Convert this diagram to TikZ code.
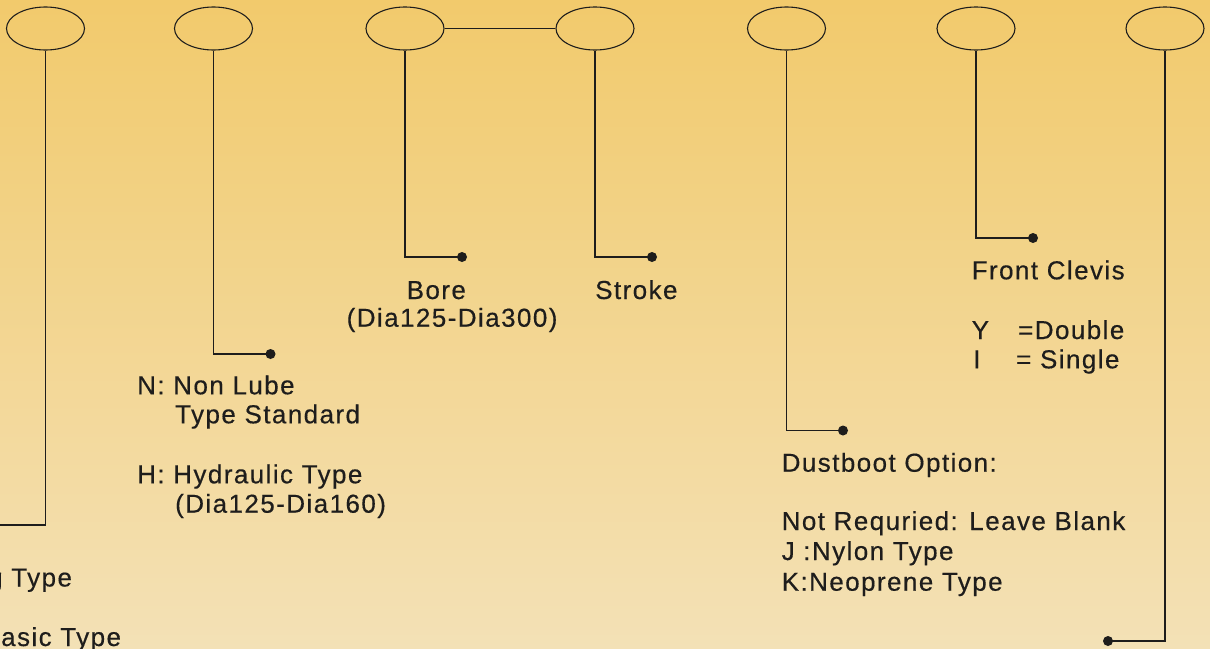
\documentclass[tikz,border=0pt]{standalone}
\usepackage{fontspec}
\setmainfont{Liberation Sans}[LetterSpace=5.5,FakeBold=0.4]
\definecolor{bgtop}{RGB}{242,202,108}
\definecolor{bgbot}{RGB}{243,225,182}
\definecolor{ink}{RGB}{30,29,28}
\tikzset{
  oval/.style={draw=ink, line width=1.1pt, ellipse, minimum width=78pt, minimum height=43pt, inner sep=0pt},
  lead/.style={draw=ink, line width=1.1pt},
  dot/.style={circle, fill=ink, inner sep=0pt, minimum size=10pt},
  lbl/.style={anchor=base west, inner sep=0pt, text=ink, font=\fontsize{26}{30}\selectfont},
}
\usetikzlibrary{shapes.geometric}
\begin{document}
\begin{tikzpicture}[x=1pt,y=-1pt]
\useasboundingbox (0,0) rectangle (1210,648);
\shade[top color=bgtop, bottom color=bgbot] (0,0) rectangle (1210,648);
\clip (0,0) rectangle (1210,648);
% ovals
\node[oval] (e1) at (45.5,28.5) {};
\node[oval] (e2) at (213.5,28.5) {};
\node[oval] (e3) at (405,28.5) {};
\node[oval] (e4) at (595,28.5) {};
\node[oval] (e5) at (786.5,28.5) {};
\node[oval] (e6) at (976,28.5) {};
\node[oval] (e7) at (1165,28.5) {};
% dots and corners
\coordinate (c1) at (45.5,525);
\coordinate (d1) at (-20,525);
\coordinate (c2) at (213.5,354);
\node[dot] (d2) at (270.5,354) {};
\coordinate (c3) at (405,257);
\node[dot] (d3) at (462,257) {};
\coordinate (c4) at (595,257);
\node[dot] (d4) at (652,257) {};
\coordinate (c5) at (786.5,430.5);
\node[dot] (d5) at (843,430.5) {};
\coordinate (c6) at (976,238);
\node[dot] (d6) at (1033,238) {};
\coordinate (c7) at (1165,641);
\node[dot] (d7) at (1108,641) {};
% connectors
\draw[lead] (e3.east) -- (e4.west);
\draw[lead] (e1.south) -- (c1) -- (d1);
\draw[lead] (e2.south) -- (c2) -- (d2.center);
\draw[lead] (e3.south) -- (c3) -- (d3.center);
\draw[lead] (e4.south) -- (c4) -- (d4.center);
\draw[lead] (e5.south) -- (c5) -- (d5.center);
\draw[lead] (e6.south) -- (c6) -- (d6.center);
\draw[lead] (e7.south) -- (c7) -- (d7.center);
% labels
\node[lbl] (t1a) at (-12,586.5) {g Type};
\node[lbl] (t1b) at (1,646) {asic Type};
\node[lbl] (t2a) at (137,394.3) {N: Non Lube};
\node[lbl] (t2b) at (175,423.3) {Type Standard};
\node[lbl] (t2c) at (137,483.3) {H: Hydraulic Type};
\node[lbl] (t2d) at (175,512.7) {(Dia125-Dia160)};
\node[lbl] (t3a) at (406.5,299) {Bore};
\node[lbl] (t3b) at (346.5,326.7) {(Dia125-Dia300)};
\node[lbl] (t4a) at (595,299) {Stroke};
\node[lbl] (t5a) at (781.5,471.7) {Dustboot Option:};
\node[lbl] (t5b) at (781.5,530) {Not Requried: Leave Blank};
\node[lbl] (t5c) at (781.5,560) {J :Nylon Type};
\node[lbl] (t5d) at (781.5,590.7) {K:Neoprene Type};
\node[lbl] (t6a) at (971.5,279.3) {Front Clevis};
\node[lbl] (t6b) at (971.5,339) {Y};
\node[lbl] (t6c) at (1018,339) {=Double};
\node[lbl] (t6d) at (973,368.3) {I};
\node[lbl] (t6e) at (1016,368.3) {= Single};
\end{tikzpicture}
\end{document}
